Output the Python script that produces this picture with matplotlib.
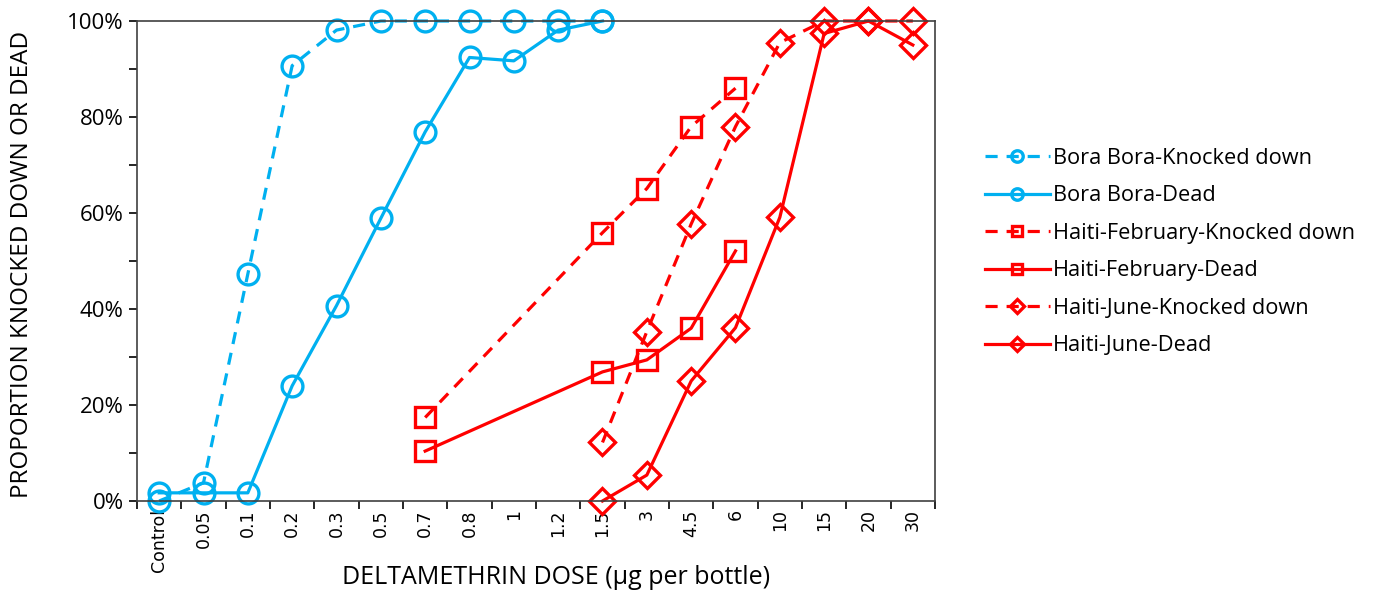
import numpy as np
import matplotlib.pyplot as plt
from matplotlib.ticker import FixedLocator, FuncFormatter, MultipleLocator

# dose categories (x axis)
doses = ["Control", "0.05", "0.1", "0.2", "0.3", "0.5", "0.7", "0.8", "1", "1.2",
         "1.5", "3", "4.5", "6", "10", "15", "20", "30"]

# percent values, None = not tested
bora_kd = [0, 3.8, 47.3, 90.7, 98.1, 100, 100, 100, 100, 100, 100,
           None, None, None, None, None, None, None]
bora_dead = [1.7, 1.7, 1.7, 24.0, 40.7, 58.9, 76.9, 92.4, 91.7, 98.1, 100,
             None, None, None, None, None, None, None]
feb_kd = [None, None, None, None, None, None, 17.4, None, None, None, 55.9,
          65.1, 78.0, 86.0, None, None, None, None]
feb_dead = [None, None, None, None, None, None, 10.4, None, None, None, 26.9,
            29.4, 36.0, 52.1, None, None, None, None]
june_kd = [None, None, None, None, None, None, None, None, None, None, 12.2,
           35.3, 57.7, 78.0, 95.5, 100, 100, 100]
june_dead = [None, None, None, None, None, None, None, None, None, None, 0,
             5.4, 25.0, 36.1, 59.1, 97.4, 100, 95.0]

series = [
    ("Bora Bora-Knocked down", bora_kd, "#00B0F0", "o", True),
    ("Bora Bora-Dead", bora_dead, "#00B0F0", "o", False),
    ("Haiti-February-Knocked down", feb_kd, "#FF0000", "s", True),
    ("Haiti-February-Dead", feb_dead, "#FF0000", "s", False),
    ("Haiti-June-Knocked down", june_kd, "#FF0000", "D", True),
    ("Haiti-June-Dead", june_dead, "#FF0000", "D", False),
]

plt.rcParams['font.family'] = ['Open Sans', 'DejaVu Sans']

fig = plt.figure(figsize=(13.74, 5.98), dpi=100)
ax = fig.add_axes([137/1374, 1 - 501/598, (935-137)/1374, (501-21)/598])

x = np.arange(len(doses))
for name, vals, col, mk, dashed in series:
    xs = [i for i, v in zip(x, vals) if v is not None]
    ys = [v for v in vals if v is not None]
    ms = 15 if mk == "o" else (14 if mk == "s" else 13)
    line, = ax.plot(xs, ys, color=col, lw=2.3, marker=mk, ms=ms,
                    mfc="none", mec=col, mew=2.4, label=name, clip_on=False)
    if dashed:
        line.set_dashes([3.8, 2.8])

ax.set_xlim(-0.5, len(doses) - 0.5)
ax.set_ylim(0, 100)
ax.set_xticks(x)
ax.set_xticklabels(doses, rotation=90, fontsize=12.5, family="DejaVu Sans")
ax.tick_params(axis="x", which="major", length=0, pad=6)
ax.xaxis.set_minor_locator(FixedLocator(np.arange(-0.5, len(doses), 1)))
ax.tick_params(axis="x", which="minor", length=6, width=1.2, direction="out")

ax.yaxis.set_major_locator(MultipleLocator(20))
ax.yaxis.set_minor_locator(MultipleLocator(10))
ax.yaxis.set_major_formatter(FuncFormatter(lambda v, p: f"{v:.0f}%"))
ax.tick_params(axis="y", which="both", length=6, width=1.2, labelsize=16)

for s in ax.spines.values():
    s.set_color("#404040")
    s.set_linewidth(1.2)

fig.text(556/1374, 1 - 578/598, "DELTAMETHRIN DOSE (µg per bottle)",
         ha="center", va="center", fontsize=18)
fig.text(22/1374, 1 - 264/598, "PROPORTION KNOCKED DOWN OR DEAD",
         ha="center", va="center", rotation=90, fontsize=17.5)

leg = fig.legend(loc="upper left", bbox_to_anchor=(965/1374, 1 - 128/598),
                 frameon=False, fontsize=15.7, handlelength=3.0,
                 labelspacing=0.76, handletextpad=0.15, markerscale=0.55)

fig.savefig("out.png", dpi=100)
